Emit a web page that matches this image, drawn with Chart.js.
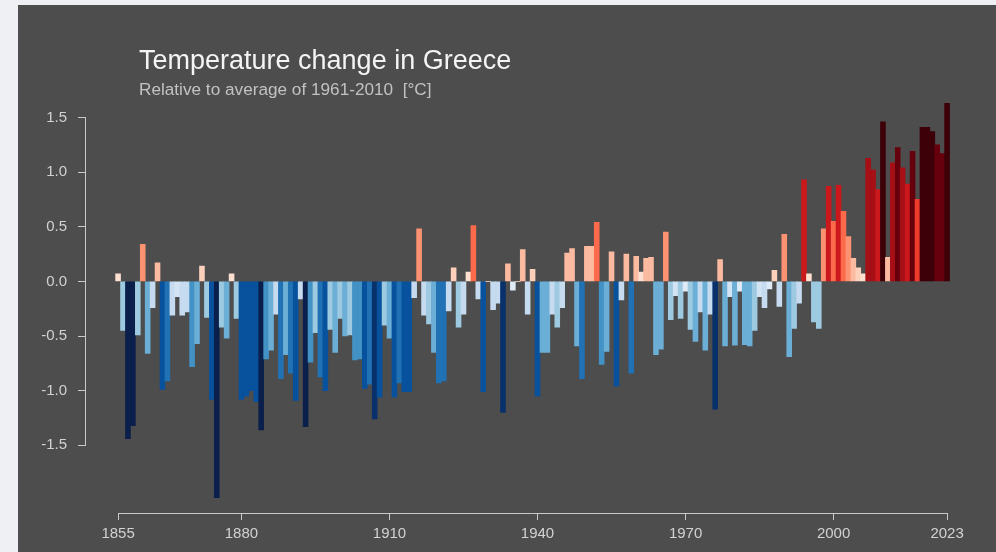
<!DOCTYPE html>
<html lang="en">
<head>
<meta charset="utf-8">
<title>Temperature change in Greece</title>
<script src="https://cdn.jsdelivr.net/npm/chart.js@4.4.1/dist/chart.umd.min.js"></script>
<style>
    html, body { margin: 0; padding: 0; }
    body {
        width: 996px;
        height: 552px;
        position: relative;
        overflow: hidden;
        background: #eef0f3;
        font-family: "Liberation Sans", Arial, sans-serif;
    }
    #panel { position: absolute; left: 18px; top: 5px; right: 0; bottom: 0; background: #4d4d4d; }
    #chart { position: absolute; left: 0; top: 0; }
    #title {
        position: absolute; left: 139px; top: 47px;
        font-size: 27px; line-height: 27px; color: #f4f4f4; white-space: nowrap;
    }
    #subtitle {
        position: absolute; left: 139px; top: 81px;
        font-size: 17.2px; line-height: 17px; color: #c2c2c2; white-space: nowrap;
    }
</style>
</head>
<body>
<div id="panel"></div>
<canvas id="chart" width="996" height="552"></canvas>
<div id="title">Temperature change in Greece</div>
<div id="subtitle">Relative to average of 1961-2010&nbsp;&nbsp;[°C]</div>
<script>
// Anomalies in °C, one per year starting 1855 (rows = decades)
const firstYear = 1855;
const anomalies = [
    0.07, -0.45, -1.44, -1.32, -0.49,                                   // 1855-1859
    0.34, -0.66, -0.24, 0.17, -0.99, -0.91, -0.31, -0.14, -0.31, -0.28, // 1860s
    -0.78, -0.57, 0.14, -0.33, -1.08, -1.98, -0.42, -0.52, 0.07, -0.34, // 1870s
    -1.08, -1.05, -1.00, -1.10, -1.36, -0.71, -0.63, -0.30, -0.89, -0.67, // 1880s
    -0.84, -1.09, -0.16, -1.33, -0.74, -0.47, -0.875, -1.00, -0.44, -0.65, // 1890s
    -0.34, -0.50, -0.49, -0.72, -0.71, -0.98, -0.94, -1.26, -1.06, -0.40, // 1900s
    -0.52, -1.06, -0.93, -1.01, -1.01, -0.15, 0.48, -0.31, -0.39, -0.65, // 1910s
    -0.93, -0.91, -0.27, 0.125, -0.42, -0.30, 0.085, 0.51, -0.16, -1.01, // 1920s
    0.0, -0.26, -0.20, -1.20, 0.16, -0.08, 0.0, 0.29, -0.30, 0.11,      // 1930s
    -1.05, -0.65, -0.65, -0.30, -0.42, -0.24, 0.26, 0.30, -0.59, -0.89, // 1940s
    0.32, 0.32, 0.54, -0.76, -0.64, 0.27, -0.96, -0.17, 0.25, -0.84,    // 1950s
    0.23, 0.085, 0.21, 0.22, -0.67, -0.62, 0.45, -0.35, -0.13, -0.34,   // 1960s
    -0.09, -0.44, -0.55, -0.28, -0.63, -0.30, -1.17, 0.20, -0.59, -0.14, // 1970s
    -0.585, -0.09, -0.58, -0.59, -0.45, -0.14, -0.24, -0.07, 0.10, -0.23, // 1980s
    0.43, -0.69, -0.43, -0.20, 0.93, 0.07, -0.37, -0.43, 0.48, 0.87,    // 1990s
    0.55, 0.88, 0.64, 0.41, 0.21, 0.125, 0.07, 1.125, 1.02, 0.84,       // 2000s
    1.46, 0.22, 1.085, 1.225, 1.04, 0.89, 1.19, 0.75, 1.41, 1.41,       // 2010s
    1.37, 1.25, 1.17, 1.63                                              // 2020-2023
];
const years = anomalies.map((_, i) => firstYear + i);

const yTicks = [-1.5, -1.0, -0.5, 0.0, 0.5, 1.0, 1.5];
const xTicks = [1855, 1880, 1910, 1940, 1970, 2000, 2023];

// stripes palette, step limits on |anomaly|
const stepLimits = [0.1, 0.15, 0.33, 0.5, 0.7, 0.8, 0.95, 1.15, 1.3];
const warmSteps = ['#fee0d2', '#fdd0bc', '#fcbba1', '#fc9272', '#fb6a4a', '#ef3b2c', '#cb181d', '#a50f15', '#67000d', '#3d0008'];
const coldSteps = ['#deebf7', '#d2e3f3', '#c6dbef', '#9ecae1', '#6baed6', '#4292c6', '#2171b5', '#08519c', '#08306b', '#0a1f4b'];

function barColour(v) {
    const a = Math.abs(v);
    let i = 0;
    while (i < stepLimits.length && a >= stepLimits[i]) i++;
    return v >= 0 ? warmSteps[i] : coldSteps[i];
}

const axisColour = '#c9c9c9';
const labelColour = '#d2d2d2';

// axis lines only between first and last tick, like base R plots
const rAxisLines = {
    id: 'rAxisLines',
    afterDraw(chart) {
        const { ctx, chartArea, scales } = chart;
        const ax = Math.round(chartArea.left) - 0.5;
        const ay = Math.round(chartArea.bottom) + 0.5;
        ctx.save();
        ctx.strokeStyle = axisColour;
        ctx.lineWidth = 1;
        ctx.beginPath();
        ctx.moveTo(ax, scales.y.getPixelForValue(yTicks[yTicks.length - 1]));
        ctx.lineTo(ax, scales.y.getPixelForValue(yTicks[0]));
        ctx.moveTo(scales.x.getPixelForValue(xTicks[0]), ay);
        ctx.lineTo(scales.x.getPixelForValue(xTicks[xTicks.length - 1]), ay);
        ctx.stroke();
        ctx.restore();
    }
};

const ctx = document.getElementById('chart').getContext('2d');
new Chart(ctx, {
    type: 'bar',
    data: {
        datasets: [{
            data: years.map((yr, i) => ({ x: yr, y: anomalies[i] })),
            backgroundColor: anomalies.map(barColour),
            borderWidth: 0,
            categoryPercentage: 1.0,
            barPercentage: 1.0
        }]
    },
    options: {
        responsive: false,
        animation: false,
        devicePixelRatio: 1,
        layout: { padding: { top: 100, right: 41.5, bottom: 0, left: 0 } },
        plugins: {
            legend: { display: false },
            tooltip: { enabled: false },
            title: { display: false }
        },
        scales: {
            x: {
                type: 'linear',
                min: 1848.5,
                max: 2024.5,
                offset: false,
                afterBuildTicks: (scale) => { scale.ticks = xTicks.map(v => ({ value: v })); },
                afterFit: (scale) => { scale.height = 39; },
                border: { display: false },
                grid: { offset: false, drawOnChartArea: false, drawTicks: true, tickLength: 7, color: axisColour },
                ticks: {
                    color: labelColour,
                    padding: 5,
                    maxRotation: 0,
                    autoSkip: false,
                    font: { family: '"Liberation Sans", Arial, sans-serif', size: 15 },
                    callback: (v) => String(v)
                }
            },
            y: {
                min: -2.12,
                max: 1.66,
                afterBuildTicks: (scale) => { scale.ticks = yTicks.map(v => ({ value: v })); },
                afterFit: (scale) => { scale.width = 86; },
                border: { display: false },
                grid: { drawOnChartArea: false, drawTicks: true, tickLength: 8, color: axisColour },
                ticks: {
                    color: labelColour,
                    padding: 11,
                    autoSkip: false,
                    font: { family: '"Liberation Sans", Arial, sans-serif', size: 15 },
                    callback: (v) => Number(v).toFixed(1)
                }
            }
        }
    },
    plugins: [rAxisLines]
});
</script>
</body>
</html>
